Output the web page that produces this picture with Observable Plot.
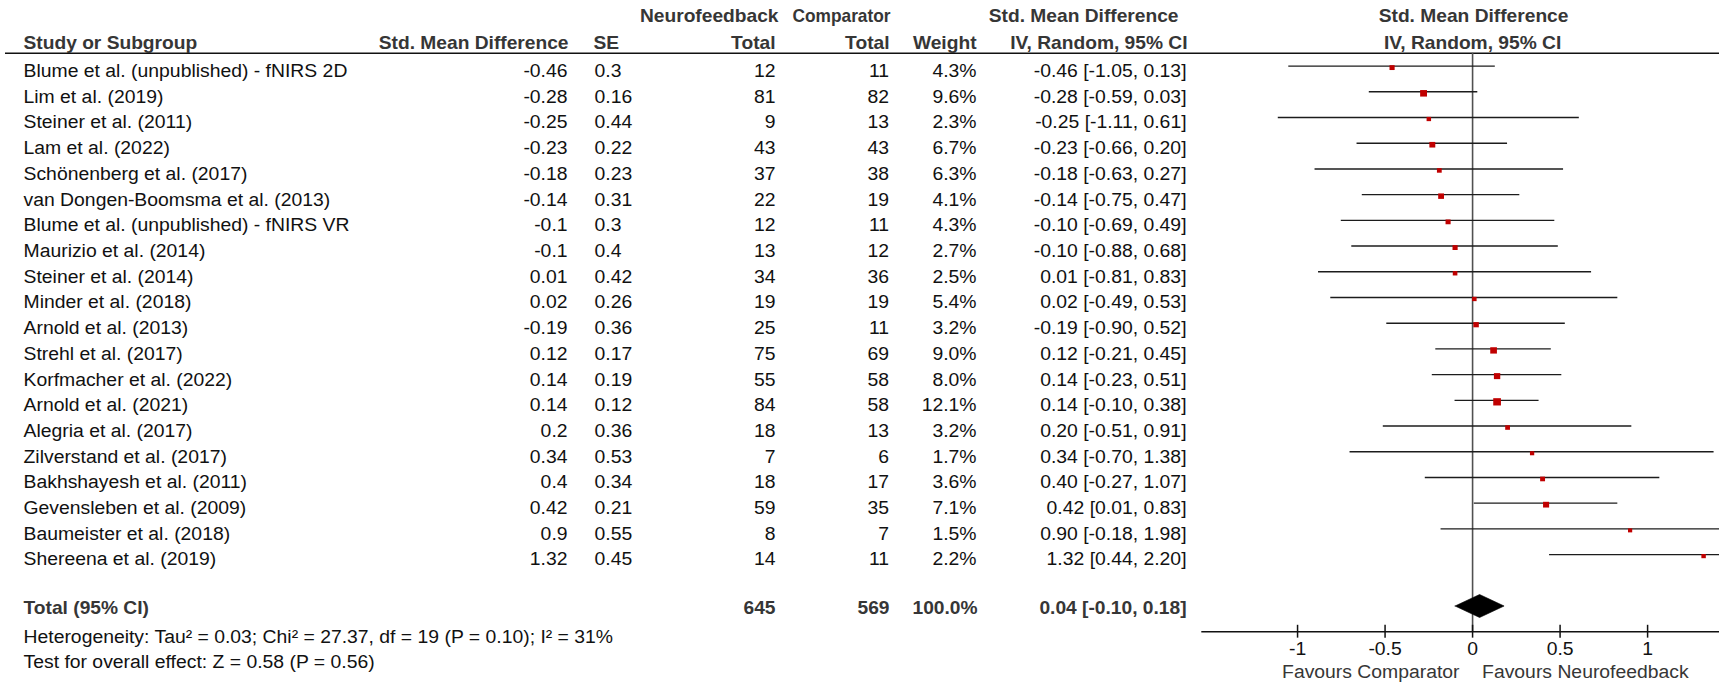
<!DOCTYPE html>
<html><head><meta charset="utf-8">
<script src="https://cdn.jsdelivr.net/npm/d3@7"></script>
<script src="https://cdn.jsdelivr.net/npm/@observablehq/plot@0.6"></script>
<style>
html,body{margin:0;padding:0;background:#fff;overflow:hidden;}
#chart svg{display:block;}
</style></head><body><div id="chart"></div>
<script>
// ---------------- data ----------------
const studies = [
  "Blume et al. (unpublished) - fNIRS 2D", "Lim et al. (2019)", "Steiner et al. (2011)", "Lam et al. (2022)",
  "Schönenberg et al. (2017)", "van Dongen-Boomsma et al. (2013)", "Blume et al. (unpublished) - fNIRS VR",
  "Maurizio et al. (2014)", "Steiner et al. (2014)", "Minder et al. (2018)", "Arnold et al. (2013)",
  "Strehl et al. (2017)", "Korfmacher et al. (2022)", "Arnold et al. (2021)", "Alegria et al. (2017)",
  "Zilverstand et al. (2017)", "Bakhshayesh et al. (2011)", "Gevensleben et al. (2009)",
  "Baumeister et al. (2018)", "Shereena et al. (2019)"
];
const smd = [-0.46, -0.28, -0.25, -0.23, -0.18, -0.14, -0.1, -0.1, 0.01, 0.02, -0.19, 0.12, 0.14, 0.14, 0.2, 0.34, 0.4, 0.42, 0.9, 1.32];
const se = [0.3, 0.16, 0.44, 0.22, 0.23, 0.31, 0.3, 0.4, 0.42, 0.26, 0.36, 0.17, 0.19, 0.12, 0.36, 0.53, 0.34, 0.21, 0.55, 0.45];
const nfTotal = [12, 81, 9, 43, 37, 22, 12, 13, 34, 19, 25, 75, 55, 84, 18, 7, 18, 59, 8, 14];
const compTotal = [11, 82, 13, 43, 38, 19, 11, 12, 36, 19, 11, 69, 58, 58, 13, 6, 17, 35, 7, 11];
const weight = [4.3, 9.6, 2.3, 6.7, 6.3, 4.1, 4.3, 2.7, 2.5, 5.4, 3.2, 9.0, 8.0, 12.1, 3.2, 1.7, 3.6, 7.1, 1.5, 2.2];
const ciLow = [-1.05, -0.59, -1.11, -0.66, -0.63, -0.75, -0.69, -0.88, -0.81, -0.49, -0.90, -0.21, -0.23, -0.10, -0.51, -0.70, -0.27, 0.01, -0.18, 0.44];
const ciHigh = [0.13, 0.03, 0.61, 0.20, 0.27, 0.47, 0.49, 0.68, 0.83, 0.53, 0.52, 0.45, 0.51, 0.38, 0.91, 1.38, 1.07, 0.83, 1.98, 2.20];

const totalLabel = ["Total (95% CI)"];
const totalValues = {nf: 645, comp: 569, weight: 100.0, smd: 0.04, lo: -0.10, hi: 0.18};
const statLines = [
  "Heterogeneity: Tau² = 0.03; Chi² = 27.37, df = 19 (P = 0.10); I² = 31%",
  "Test for overall effect: Z = 0.58 (P = 0.56)"
];
const headerTop = ["Neurofeedback", "Comparator", "Std. Mean Difference", "Std. Mean Difference"];
const headerBottom = ["Study or Subgroup", "Std. Mean Difference", "SE", "Total", "Total", "Weight", "IV, Random, 95% CI", "IV, Random, 95% CI"];
const tickValues = [-1, -0.5, 0, 0.5, 1];
const tickLabels = ["-1", "-0.5", "0", "0.5", "1"];
const favours = ["Favours Comparator", "Favours Neurofeedback"];

// ---------------- layout ----------------
const W = 1719, H = 683;
const K = 1.055;          // horizontal stretch of the picture
const FS = 18.35;         // body font size (px)
const FB = 18.2;          // bold font size (px)
const ML = 5;             // left margin (final px)
const yTop = 65.6, rowH = 25.71;
const R = px => (px - yTop) / rowH;      // final px -> row units
const DX = px => (px - ML) / K;          // final px -> dx from frame left
const axisRow = 22;
const font = "Liberation Sans, Arial, Helvetica, sans-serif";
const headCol = "#363636", bodyCol = "#111";

// rows
const rows = studies.map((s, i) => ({
  study: s, smd: smd[i], se: se[i], nf: nfTotal[i], comp: compTotal[i], w: weight[i], lo: ciLow[i], hi: ciHigh[i], row: i
}));
// the graphic lists studies ordered by effect size
const plotOrder = d3.range(rows.length).sort((a, b) => smd[a] - smd[b]);
plotOrder.forEach((idx, r) => rows[idx].prow = r);

const fmt2 = v => v.toFixed(2);
const ciText = d => `${fmt2(d.smd)} [${fmt2(d.lo)}, ${fmt2(d.hi)}]`;

const txt = (extra) => Object.assign({frameAnchor: "left", fontSize: FS, fill: bodyCol}, extra);
const bold = (extra) => Object.assign({frameAnchor: "left", fontSize: FB, fontWeight: "bold", fill: headCol}, extra);

const T = totalValues;
const diamond = [
  {x: T.lo, y: 21}, {x: T.smd, y: 21 - 11.5 / rowH}, {x: T.hi, y: 21}, {x: T.smd, y: 21 + 11.5 / rowH}, {x: T.lo, y: 21}
];

const yHA = R(15.5), yHB = R(42.5);

const marks = [
  // header underline
  Plot.ruleY([-0.5], {stroke: "#111", strokeWidth: 1.4}),
  // zero line
  Plot.ruleX([0], {y1: -0.5, y2: axisRow, stroke: "#505050", strokeWidth: 1.6 / K}),
  // CIs
  Plot.ruleY(rows, {y: "prow", x1: "lo", x2: "hi", stroke: "#1c1c1c", strokeWidth: 1.4}),
  // squares
  Plot.dot(rows, {x: "smd", y: "prow", r: "w", symbol: "square", fill: "#c00000", stroke: null, dy: 1.5}),
  // diamond
  Plot.line(diamond, {x: "x", y: "y", fill: "#000", stroke: "#000", strokeWidth: 0.6}),
  // axis
  Plot.ruleY([axisRow], {x1: -1.547, x2: 1.547, stroke: "#111", strokeWidth: 1.4}),
  Plot.ruleX(tickValues, {x: d => d, y1: axisRow - 0.25, y2: axisRow + 0.25, stroke: "#111", strokeWidth: 1.5 / K}),
  Plot.text(tickValues, {x: d => d, y: R(648.5), text: (d, i) => tickLabels[i], fontSize: FS, fill: bodyCol}),
  Plot.text([favours[0]], {x: 0, y: R(671.5), text: d => d, textAnchor: "end", dx: -13 / K, fontSize: FS, fill: headCol}),
  Plot.text([favours[1]], {x: 0, y: R(671.5), text: d => d, textAnchor: "start", dx: 9.5 / K, fontSize: FS, fill: headCol}),

  // header top row
  Plot.text([headerTop[0]], bold({y: yHA, text: d => d, textAnchor: "end", dx: DX(778)})),
  Plot.text([headerTop[1]], bold({y: yHA, text: d => d, textAnchor: "end", dx: DX(890)})),
  Plot.text([headerTop[2]], bold({y: yHA, text: d => d, textAnchor: "end", dx: DX(1178)})),
  Plot.text([headerTop[3]], {x: 0, y: yHA, text: d => d, textAnchor: "middle", dx: 1 / K, fontSize: FB, fontWeight: "bold", fill: headCol}),
  // header bottom row
  Plot.text([headerBottom[0]], bold({y: yHB, text: d => d, textAnchor: "start", dx: DX(23)})),
  Plot.text([headerBottom[1]], bold({y: yHB, text: d => d, textAnchor: "end", dx: DX(568)})),
  Plot.text([headerBottom[2]], bold({y: yHB, text: d => d, textAnchor: "start", dx: DX(593)})),
  Plot.text([headerBottom[3]], bold({y: yHB, text: d => d, textAnchor: "end", dx: DX(775)})),
  Plot.text([headerBottom[4]], bold({y: yHB, text: d => d, textAnchor: "end", dx: DX(889)})),
  Plot.text([headerBottom[5]], bold({y: yHB, text: d => d, textAnchor: "end", dx: DX(976)})),
  Plot.text([headerBottom[6]], bold({y: yHB, text: d => d, textAnchor: "end", dx: DX(1187)})),
  Plot.text([headerBottom[7]], {x: 0, y: yHB, text: d => d, textAnchor: "middle", dx: 0, fontSize: FB, fontWeight: "bold", fill: headCol}),

  // study rows
  Plot.text(rows, txt({y: "row", dy: 5, text: "study", textAnchor: "start", dx: DX(23)})),
  Plot.text(rows, txt({y: "row", dy: 5, text: d => String(d.smd), textAnchor: "end", dx: DX(567)})),
  Plot.text(rows, txt({y: "row", dy: 5, text: d => String(d.se), textAnchor: "start", dx: DX(594)})),
  Plot.text(rows, txt({y: "row", dy: 5, text: d => String(d.nf), textAnchor: "end", dx: DX(775)})),
  Plot.text(rows, txt({y: "row", dy: 5, text: d => String(d.comp), textAnchor: "end", dx: DX(888.5)})),
  Plot.text(rows, txt({y: "row", dy: 5, text: d => d.w.toFixed(1) + "%", textAnchor: "end", dx: DX(976)})),
  Plot.text(rows, txt({y: "row", dy: 5, text: ciText, textAnchor: "end", dx: DX(1186)})),

  // total row
  Plot.text(totalLabel, bold({y: 21, dy: 2, text: d => d, textAnchor: "start", dx: DX(23)})),
  Plot.text([T], bold({y: 21, dy: 2, text: d => String(d.nf), textAnchor: "end", dx: DX(775)})),
  Plot.text([T], bold({y: 21, dy: 2, text: d => String(d.comp), textAnchor: "end", dx: DX(889)})),
  Plot.text([T], bold({y: 21, dy: 2, text: d => d.weight.toFixed(1) + "%", textAnchor: "end", dx: DX(977)})),
  Plot.text([T], bold({y: 21, dy: 2, text: d => ciText(d), textAnchor: "end", dx: DX(1186)})),

  // statistics
  Plot.text([statLines[0]], txt({y: R(636.5), text: d => d, textAnchor: "start", dx: DX(23)})),
  Plot.text([statLines[1]], txt({y: R(662), text: d => d, textAnchor: "start", dx: DX(23)}))
];

const chart = Plot.plot({
  width: W / K,
  height: H,
  marginLeft: ML / K, marginRight: 0, marginTop: 0, marginBottom: 0,
  style: {fontFamily: font, fontSize: FS + "px", background: "#fff", color: bodyCol},
  x: {type: "linear", domain: [-1.547, 1.411], range: [1201.3 / K, W / K], axis: null},
  y: {type: "linear", domain: [0, 19], range: [yTop, yTop + 19 * rowH], axis: null},
  r: {type: "linear", domain: [1.5, 12.1], range: [4 / Math.sqrt(Math.PI), 7.3 / Math.sqrt(Math.PI)]},
  marks
});
chart.setAttribute("width", W);
chart.setAttribute("height", H);
chart.setAttribute("preserveAspectRatio", "none");
chart.style.width = W + "px";
chart.style.height = H + "px";
chart.style.maxWidth = "none";
chart.style.overflow = "hidden";
document.getElementById("chart").appendChild(chart);
// the reference sets the "Comparator" group label a little tighter
chart.querySelectorAll("text").forEach(t => {
  if (t.textContent === headerTop[1]) {
    t.setAttribute("textLength", 98 / K);
    t.setAttribute("lengthAdjust", "spacingAndGlyphs");
  }
});
</script>
</body></html>
